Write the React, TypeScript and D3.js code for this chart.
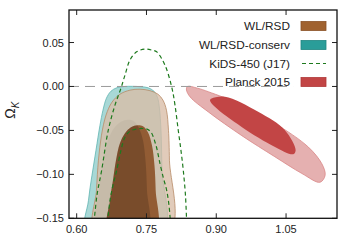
import * as d3 from "d3";

// axis ticks
const xTicks = [0.6, 0.75, 0.9, 1.05];
const yTicks = [0.05, 0.0, -0.05, -0.1, -0.15];

// contours, [Omega_m, Omega_K]
const conservOuter: [number, number][] = [
  [0.6211, -0.165], [0.6254, -0.1295], [0.6329, -0.101], [0.6415, -0.0725], [0.6501, -0.0441],
  [0.6565, -0.027], [0.664, -0.0133], [0.6737, -0.0054], [0.6866, -0.0014], [0.7038, 0.0],
  [0.736, -0.0002], [0.7532, -0.0014], [0.7661, -0.0054], [0.7736, -0.0122], [0.7779, -0.0247],
  [0.7812, -0.0498], [0.7833, -0.0953], [0.7855, -0.165],
];
const conservInner: [number, number][] = [
  [0.6426, -0.165], [0.6479, -0.1181], [0.6565, -0.0839], [0.6672, -0.0612], [0.6802, -0.0475],
  [0.6952, -0.0401], [0.7102, -0.0378], [0.7231, -0.0395], [0.7339, -0.0475], [0.7425, -0.0612],
  [0.7479, -0.0839], [0.7511, -0.1181], [0.7521, -0.165],
];
const wlOuter: [number, number][] = [
  [0.6393, -0.165], [0.6426, -0.1181], [0.6468, -0.0839], [0.6533, -0.0555], [0.663, -0.0327],
  [0.6759, -0.0179], [0.693, -0.0088], [0.7145, -0.0042], [0.736, -0.0031], [0.7575, -0.0048],
  [0.7747, -0.0088], [0.7855, -0.0156], [0.793, -0.027], [0.7973, -0.0498], [0.7994, -0.0839],
  [0.8005, -0.165],
];
const wlInner: [number, number][] = [
  [0.6679, -0.165], [0.6716, -0.1295], [0.678, -0.1067], [0.6845, -0.0839], [0.693, -0.0646],
  [0.7038, -0.0532], [0.7167, -0.0464], [0.7307, -0.0441], [0.7425, -0.0452], [0.7532, -0.052],
  [0.7618, -0.0669], [0.7672, -0.0896], [0.7698, -0.1181], [0.7704, -0.165],
];
const kidsOuter: [number, number][] = [
  [0.6372, -0.155], [0.6436, -0.1238], [0.6537, -0.0953], [0.6679, -0.0498], [0.6823, -0.0213],
  [0.6952, -0.0019], [0.7038, 0.0129], [0.7145, 0.03], [0.7289, 0.0394], [0.7468, 0.0425],
  [0.7618, 0.0413], [0.7719, 0.0394], [0.7897, 0.0243], [0.8042, -0.0005], [0.8113, -0.0213],
  [0.8183, -0.0498], [0.8241, -0.0726], [0.8291, -0.0953], [0.8338, -0.1238], [0.8364, -0.155],
];
const kidsInner: [number, number][] = [
  [0.6662, -0.155], [0.6716, -0.1295], [0.678, -0.1124], [0.686, -0.0953], [0.6952, -0.0726],
  [0.7038, -0.0577], [0.7145, -0.0509], [0.7274, -0.0486], [0.7403, -0.0478], [0.7511, -0.0486],
  [0.7597, -0.052], [0.7704, -0.0669], [0.779, -0.0877], [0.7865, -0.1044], [0.7934, -0.1181],
  [0.7984, -0.1352], [0.8016, -0.155],
];
const planckOuter: [number, number][] = [
  [0.838, 0.0], [0.86, -0.002], [0.883, -0.006], [0.955, -0.021], [1.026, -0.042],
  [1.098, -0.069], [1.127, -0.088], [1.134, -0.101], [1.123, -0.109], [1.084, -0.099],
  [1.026, -0.08], [0.955, -0.056], [0.883, -0.029], [0.844, -0.012], [0.836, -0.004],
];
const planckInner: [number, number][] = [
  [0.89, -0.0137], [0.9187, -0.0118], [0.99, -0.0289], [1.0476, -0.0498], [1.0706, -0.0726],
  [1.0655, -0.0771], [1.0262, -0.0688], [0.9546, -0.046], [0.897, -0.0232], [0.8865, -0.0156],
];

const legendLabels = ["WL/RSD", "WL/RSD-conserv", "KiDS-450 (J17)", "Planck 2015"];

const W = 347, H = 245;
const M = { top: 10, right: 10, bottom: 26.7, left: 69 };
const FONT = "'Liberation Sans', Arial, sans-serif";

const fmt = (v: number) => (v < 0 ? "\u2212" : "") + Math.abs(v).toFixed(2);

export default function App() {
  const x = d3.scaleLinear().domain([0.5835, 1.1595]).range([M.left, W - M.right]);
  const y = d3.scaleLinear().domain([-0.15, 0.087]).range([H - M.bottom, M.top]);

  const closed = d3.line<[number, number]>()
    .x((d) => x(d[0])).y((d) => y(d[1]))
    .curve(d3.curveCatmullRomClosed);
  const open = d3.line<[number, number]>()
    .x((d) => x(d[0])).y((d) => y(d[1]))
    .curve(d3.curveCatmullRom);

  const [x0, x1] = x.range();
  const [y0, y1] = y.range();

  const legendY = [26, 45, 63.5, 82];

  return (
    <svg width={W} height={H} style={{ position: "absolute", left: 0, top: 0 }} fontFamily={FONT}>
      <defs>
        <clipPath id="plot">
          <rect x={x0} y={y1} width={x1 - x0} height={y0 - y1} />
        </clipPath>
        <clipPath id="wlin">
          <path d={closed(wlInner)!} />
        </clipPath>
      </defs>
      <g clipPath="url(#plot)">
        <path d={closed(conservOuter)!} fill="#a8d8d6" stroke="#5fb4b1" strokeWidth={0.8} />
        <path d={closed(conservInner)!} fill="#86b8b2" stroke="none" />
        <path d={closed(wlOuter)!} fill="#d8bca6" fillOpacity={0.78} stroke="#b88a66" strokeWidth={0.8} />
        <path d={closed(wlInner)!} fill="#925c34" stroke="none" />
        {/* overlap of the two inner regions reads darker */}
        <g clipPath="url(#wlin)">
          <path d={closed(conservInner)!} fill="#000" fillOpacity={0.17} />
        </g>
        <path d={closed(planckOuter)!} fill="#e5b0b0" stroke="#d98686" strokeWidth={0.8} />
        <path d={closed(planckInner)!} fill="#c24545" stroke="none" />
        <path d={open(kidsOuter)!} fill="none" stroke="#1e7a1e" strokeWidth={1.2} strokeDasharray="4,3" />
        <path d={open(kidsInner)!} fill="none" stroke="#1e7a1e" strokeWidth={1.2} strokeDasharray="4,3" />
        <line x1={x0} x2={x(1.065)} y1={y(0)} y2={y(0)} stroke="#9a9a9a" strokeWidth={1} strokeDasharray="10,6" />
      </g>

      {/* ticks, inward on all four sides */}
      {xTicks.map((t) => (
        <g key={"x" + t}>
          <line x1={x(t)} x2={x(t)} y1={y0} y2={y0 - 5} stroke="#222" />
          <line x1={x(t)} x2={x(t)} y1={y1} y2={y1 + 5} stroke="#222" />
          <text x={x(t)} y={y0 + 15} fontSize={11} textAnchor="middle" fill="#222">{t.toFixed(2)}</text>
        </g>
      ))}
      {yTicks.map((t) => (
        <g key={"y" + t}>
          <line x1={x0} x2={x0 + 5} y1={y(t)} y2={y(t)} stroke="#222" />
          <line x1={x1} x2={x1 - 5} y1={y(t)} y2={y(t)} stroke="#222" />
          <text x={x0 - 5} y={y(t) + 4} fontSize={11} textAnchor="end" fill="#222">{fmt(t)}</text>
        </g>
      ))}
      <rect x={x0} y={y1} width={x1 - x0} height={y0 - y1} fill="none" stroke="#111" strokeWidth={1.3} />

      <text transform={`translate(15,${(y0 + y1) / 2 - 4}) rotate(-90)`} textAnchor="middle" fontSize={14} fill="#222">
        Ω<tspan fontSize={10} fontStyle="italic" dy={4}>K</tspan>
      </text>

      {/* legend */}
      {legendLabels.map((lab, i) => (
        <text key={lab} x={290} y={legendY[i] + 4} fontSize={11.8} textAnchor="end" fill="#222">{lab}</text>
      ))}
      <rect x={301} y={legendY[0] - 4.5} width={25} height={9} fill="#a0622f" stroke="#8a5227" strokeWidth={0.8} />
      <rect x={301} y={legendY[1] - 4.5} width={25} height={9} fill="#2a9d99" stroke="#1f8480" strokeWidth={0.8} />
      <line x1={302} x2={326} y1={legendY[2]} y2={legendY[2]} stroke="#1e7a1e" strokeWidth={1.2} strokeDasharray="4,3" />
      <rect x={301} y={legendY[3] - 4.5} width={25} height={9} fill="#c24545" stroke="#b03838" strokeWidth={0.8} />
    </svg>
  );
}
